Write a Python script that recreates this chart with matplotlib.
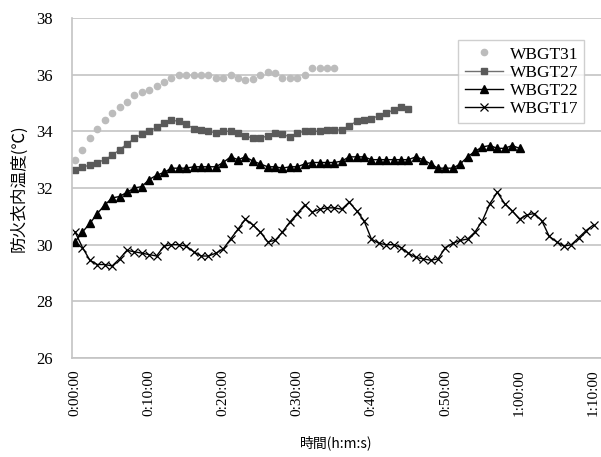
import matplotlib.pyplot as plt
import numpy as np

plt.rcParams['font.family'] = ['Liberation Serif', 'Noto Sans CJK JP', 'DejaVu Sans']

# Temperatures inside the fire suit, one reading per minute
wbgt31 = [33.0, 33.35, 33.75, 34.1, 34.4, 34.65, 34.85, 35.05, 35.3, 35.4,
          35.45, 35.6, 35.75, 35.9, 36.0, 36.0, 36.0, 36.0, 36.0, 35.9,
          35.9, 36.0, 35.9, 35.8, 35.85, 36.0, 36.1, 36.05, 35.9, 35.9,
          35.9, 36.0, 36.25, 36.25, 36.25, 36.25]
wbgt27 = [32.65, 32.75, 32.8, 32.9, 33.0, 33.15, 33.35, 33.55, 33.75, 33.9,
          34.0, 34.15, 34.3, 34.4, 34.35, 34.25, 34.1, 34.05, 34.0, 33.95,
          34.0, 34.0, 33.95, 33.85, 33.75, 33.75, 33.85, 33.95, 33.9, 33.8,
          33.95, 34.0, 34.0, 34.0, 34.05, 34.05, 34.05, 34.2, 34.35, 34.4,
          34.45, 34.55, 34.65, 34.75, 34.85, 34.8]
wbgt22 = [30.1, 30.45, 30.75, 31.1, 31.4, 31.65, 31.7, 31.85, 32.0, 32.05,
          32.3, 32.45, 32.55, 32.7, 32.7, 32.7, 32.75, 32.75, 32.75, 32.75,
          32.9, 33.1, 33.0, 33.1, 32.95, 32.85, 32.75, 32.75, 32.7, 32.75,
          32.75, 32.85, 32.9, 32.9, 32.9, 32.9, 32.95, 33.1, 33.1, 33.1,
          33.0, 33.0, 33.0, 33.0, 33.0, 33.0, 33.1, 33.0, 32.85, 32.7,
          32.7, 32.7, 32.85, 33.1, 33.3, 33.45, 33.5, 33.4, 33.4, 33.5,
          33.4]
wbgt17 = [30.45, 29.9, 29.45, 29.3, 29.3, 29.25, 29.5, 29.8, 29.75, 29.7,
          29.65, 29.6, 29.95, 30.0, 30.0, 29.95, 29.75, 29.6, 29.6, 29.7,
          29.85, 30.2, 30.55, 30.9, 30.7, 30.45, 30.1, 30.15, 30.45, 30.8,
          31.1, 31.4, 31.15, 31.25, 31.3, 31.3, 31.25, 31.5, 31.2, 30.85,
          30.2, 30.05, 30.0, 30.0, 29.9, 29.7, 29.55, 29.5, 29.45, 29.5,
          29.9, 30.05, 30.15, 30.2, 30.45, 30.85, 31.45, 31.85, 31.45, 31.2,
          30.9, 31.05, 31.1, 30.85, 30.3, 30.1, 29.95, 30.0, 30.25, 30.5,
          30.7]
tick_minutes = [0, 10, 20, 30, 40, 50, 60, 70]
tick_labels = ["0:00:00", "0:10:00", "0:20:00", "0:30:00", "0:40:00",
               "0:50:00", "1:00:00", "1:10:00"]

fig = plt.figure(figsize=(6.01, 4.57), dpi=100)
ax = fig.add_axes([0.12, 0.2166, 0.88, 0.744])

ax.plot(np.arange(len(wbgt31)), wbgt31, linestyle='none', marker='o',
        markersize=4.5, color='#bcbcbc', label='WBGT31')
ax.plot(np.arange(len(wbgt27)), wbgt27, color='#707070', lw=1, marker='s',
        markersize=5, markerfacecolor='#5a5a5a', markeredgecolor='#5a5a5a',
        label='WBGT27')
ax.plot(np.arange(len(wbgt22)), wbgt22, color='black', lw=1, marker='^',
        markersize=6, label='WBGT22')
ax.plot(np.arange(len(wbgt17)), wbgt17, color='black', lw=1, marker='x',
        markersize=6, markeredgewidth=0.9, label='WBGT17')

ax.set_ylim(26, 38)
ax.set_yticks([26, 28, 30, 32, 34, 36, 38])
ax.set_xlim(-0.4, 71.0)
ax.set_xticks(tick_minutes)
ax.set_xticklabels(tick_labels, rotation=90)
ax.tick_params(axis='both', length=0, labelsize=11)
ax.tick_params(axis='y', labelsize=12, pad=14)
ax.tick_params(axis='x', pad=8)
ax.grid(axis='y', color='#c4c4c4', lw=1.2)
for side in ['top', 'right']:
    ax.spines[side].set_visible(False)
for side in ['left', 'bottom']:
    ax.spines[side].set_color('#c4c4c4')
    ax.spines[side].set_linewidth(1.2)

ax.set_ylabel('防火衣内温度(℃)', family=['Noto Sans CJK JP', 'DejaVu Sans'],
              fontsize=12, labelpad=6)
ax.set_xlabel('時間(h:m:s)', family=['Noto Sans CJK JP', 'DejaVu Sans'],
              fontsize=10, labelpad=14)

leg = ax.legend(loc='upper right', bbox_to_anchor=(0.985, 0.96), fontsize=12.5,
                frameon=True, fancybox=False, edgecolor='#c4c4c4',
                handlelength=2.2, handletextpad=0.4, borderpad=0.35,
                labelspacing=0.12)
leg.get_frame().set_linewidth(1.0)

fig.savefig('out.png', dpi=100)
